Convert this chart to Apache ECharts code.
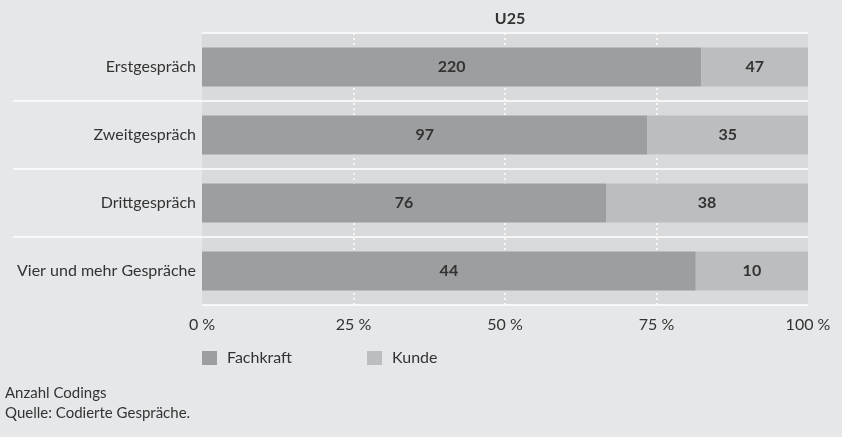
<!DOCTYPE html>
<html><head><meta charset="utf-8">
<script src="https://cdn.jsdelivr.net/npm/echarts@6/dist/echarts.min.js"></script>
<style>html,body{margin:0;padding:0;background:#e6e7e9}#c{width:842px;height:437px}</style>
</head><body><div id="c"></div>
<script>
const categories = ['Erstgespräch', 'Zweitgespräch', 'Drittgespräch', 'Vier und mehr Gespräche'];
const fachkraft = [220, 97, 76, 44];
const kunde = [47, 35, 38, 10];
const tickLabels = ['0 %', '25 %', '50 %', '75 %', '100 %'];
const seriesNames = ['Fachkraft', 'Kunde'];
const chartTitle = 'U25';
const notes = ['Anzahl Codings', 'Quelle: Codierte Gespräche.'];

const FONT = 'Lato';
const totals = fachkraft.map((v, i) => v + kunde[i]);
const pct = (arr) => arr.map((v, i) => ({ value: v / totals[i] * 100, raw: v }));

const chart = echarts.init(document.getElementById('c'), null, { renderer: 'canvas' });
const labelCfg = { show: true, position: 'inside', formatter: (p) => p.data.raw, fontFamily: FONT, fontSize: 16, fontWeight: 'bold', color: '#333' };
const option = {
  backgroundColor: '#e6e7e9',
  animation: false,
  textStyle: { fontFamily: FONT, color: '#333' },
  title: {
    text: chartTitle, left: 505, top: 6, textAlign: 'center',
    textStyle: { fontFamily: FONT, fontSize: 16, fontWeight: 'bold', color: '#333' }
  },
  grid: { left: 202, right: 34, top: 33, bottom: 132, show: true, backgroundColor: '#d9dadc', borderWidth: 0 },
  legend: {
    left: 202, top: 350, padding: 0, itemWidth: 15, itemHeight: 14, itemGap: 75, icon: 'rect',
    data: seriesNames,
    textStyle: { fontFamily: FONT, fontSize: 16, color: '#333', padding: [0, 0, 0, 5] }
  },
  xAxis: {
    type: 'value', min: 0, max: 100, interval: 25,
    axisLine: { show: false }, axisTick: { show: false },
    axisLabel: { formatter: (v) => tickLabels[v / 25], fontFamily: FONT, fontSize: 16, color: '#333', margin: 12 },
    splitLine: { show: true, lineStyle: { color: ['rgba(0,0,0,0)', '#ffffff', '#ffffff', '#ffffff', 'rgba(0,0,0,0)'], type: [2, 3], width: 1.5 } }
  },
  yAxis: {
    type: 'category', data: categories, inverse: true,
    axisLine: { show: false }, axisTick: { show: false },
    axisLabel: { fontFamily: FONT, fontSize: 16, color: '#333', margin: 6 },
    splitLine: { show: true, lineStyle: { color: '#ffffff', width: 1.5 } }
  },
  series: [
    {
      name: seriesNames[0], type: 'bar', stack: 's', barWidth: 39,
      itemStyle: { color: '#9d9ea0' }, data: pct(fachkraft), label: labelCfg
    },
    {
      name: seriesNames[1], type: 'bar', stack: 's', barWidth: 39,
      itemStyle: { color: '#bcbdbf' }, data: pct(kunde), label: labelCfg
    }
  ],
  graphic: notes.map((t, i) => ({
    type: 'text', left: 5, top: 386 + i * 20,
    style: { text: t, font: '15px ' + FONT, fill: '#333' }
  }))
};
chart.setOption(option);

// extend the white category separators to the left, using the axis scale
const lines = [];
for (let i = 1; i < categories.length; i++) {
  const a = chart.convertToPixel({ yAxisIndex: 0 }, categories[i - 1]);
  const b = chart.convertToPixel({ yAxisIndex: 0 }, categories[i]);
  const y = (a + b) / 2;
  const x0 = chart.convertToPixel({ xAxisIndex: 0 }, 0);
  lines.push({ type: 'line', shape: { x1: 13, y1: y, x2: x0, y2: y }, style: { stroke: '#ffffff', lineWidth: 1.5 } });
}
chart.setOption({ graphic: option.graphic.concat(lines) });
</script></body></html>
